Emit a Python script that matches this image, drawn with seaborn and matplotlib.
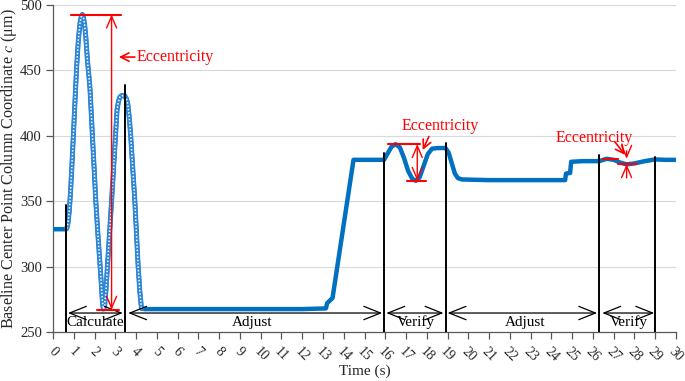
import numpy as np
import pandas as pd
import matplotlib
matplotlib.use("Agg")
import matplotlib.pyplot as plt
import seaborn as sns

# ---- data ----
time_s = [0.0, 0.3, 0.6, 0.66, 0.72, 0.78, 0.84, 0.90, 0.98, 1.06, 1.14, 1.22, 1.30, 1.36, 1.41,
          1.46, 1.52, 1.58, 1.66, 1.72, 1.78, 1.89, 1.98, 2.06, 2.16, 2.26, 2.32, 2.37, 2.42,
          2.48, 2.55, 2.62, 2.72, 2.82, 2.92, 3.01, 3.08, 3.15, 3.22, 3.30, 3.45, 3.54,
          3.60, 3.67, 3.74, 3.84, 3.94, 4.02, 4.10, 4.18, 4.26, 4.40,
          6.0, 8.0, 10.0, 12.0, 13.14, 13.20, 13.46, 14.47, 15.0, 15.94,
          16.10, 16.30, 16.50, 16.70, 16.90, 17.10, 17.30, 17.47, 17.65, 17.85, 18.05, 18.25,
          18.50, 18.90, 19.05, 19.20, 19.35, 19.50, 19.70, 21.0, 23.0, 24.66, 24.70, 24.90,
          24.95, 25.5, 26.30, 26.66, 27.00, 27.30, 27.62, 28.00, 28.50, 28.98, 29.5, 30.0]
coord_um = [328.5, 328.5, 328.5, 329, 333, 342, 356, 374, 400, 427, 453, 473, 486, 491, 492.5,
            491, 485, 475, 457, 447, 436, 402, 375, 350, 325, 302, 288, 275, 267.5,
            269, 282, 300, 325, 350, 376, 400, 419, 426, 429.5, 430.5, 430.5, 428,
            424, 414, 400, 375, 350, 325, 300, 281, 268, 267.5,
            267.5, 267.5, 267.5, 267.5, 268, 272, 276, 381.5, 381.5, 381.5,
            386, 391.5, 393.5, 391, 383, 373, 367, 365.5, 368, 377, 386, 390,
            390.5, 390.5, 387, 379, 371, 367.5, 366.5, 366, 366, 366, 371, 371.5,
            380, 380.5, 380.5, 382.3, 381.5, 379.5, 378, 378.8, 380.5, 381.8, 381.5, 381.5]

calc_time = [t for t in time_s if 0.66 <= t <= 4.3]
calc_vals = [v for t, v in zip(time_s, coord_um) if 0.66 <= t <= 4.3]

phase_names = ["Calculate", "Adjust", "Verify", "Adjust", "Verify"]
phase_start = [0.72, 3.62, 16.05, 19.0, 26.45]
phase_end = [3.36, 15.85, 18.8, 26.2, 28.95]
phase_label_t = [2.05, 9.6, 17.46, 22.74, 27.75]

boundary_t = [0.62, 3.46, 15.94, 18.9, 26.3, 29.0]
boundary_top = [347, 439, 386.6, 394, 385, 383.5]

x_ticks = list(range(0, 31))
y_ticks = [250, 300, 350, 400, 450, 500]

df = pd.DataFrame({"Time (s)": time_s, "c": coord_um})
df_calc = pd.DataFrame({"Time (s)": calc_time, "c": calc_vals})

# ---- style ----
sns.set_theme(style="white")
plt.rcParams["font.family"] = ["Liberation Serif", "DejaVu Serif"]
plt.rcParams["mathtext.fontset"] = "stix"

fig = plt.figure(figsize=(6.85, 3.81), dpi=100)
ax = fig.add_axes([0.0774, 0.1286, 0.9095, 0.8591])

blue = "#0070C0"
red = "#FF0000"

for y in [300, 350, 400, 450, 500]:
    ax.axhline(y, color="#D9D9D9", lw=0.8, zorder=0)

sns.lineplot(data=df, x="Time (s)", y="c", ax=ax, color=blue, lw=3.2,
             sort=False, estimator=None, zorder=3)
sns.lineplot(data=df_calc, x="Time (s)", y="c", ax=ax, color="#2E86D6", lw=3.6,
             sort=False, estimator=None, zorder=4)
ax.plot(calc_time, calc_vals, color="white", lw=1.1, ls=(0, (1, 1.2)), zorder=5)

# boundary lines
for t, top in zip(boundary_t, boundary_top):
    ax.plot([t, t], [250, top], color="black", lw=1.4, zorder=6)

# phase arrows & labels
for name, s, e, lt in zip(phase_names, phase_start, phase_end, phase_label_t):
    ax.annotate("", xy=(e, 264.5), xytext=(s, 264.5),
                arrowprops=dict(arrowstyle="<->,head_length=1.0,head_width=0.4",
                                color="black", lw=0.9, shrinkA=0, shrinkB=0), zorder=6)
    ax.text(lt, 257.3, name, ha="center", va="center", fontsize=11, color="black", zorder=7)

# eccentricity annotations (red)
def hline(x0, x1, y):
    ax.plot([x0, x1], [y, y], color=red, lw=1.5, zorder=7)

def darrow(x, y0, y1, style="<->"):
    ax.annotate("", xy=(x, y1), xytext=(x, y0),
                arrowprops=dict(arrowstyle=style + ",head_length=0.7,head_width=0.3",
                                color=red, lw=1.0, shrinkA=0, shrinkB=0), zorder=7)

hline(0.86, 3.27, 492.5)
hline(2.1, 3.17, 267)
darrow(2.82, 267, 492.5)
ax.annotate("", xy=(3.17, 460), xytext=(3.94, 460),
            arrowprops=dict(arrowstyle="->,head_length=0.5,head_width=0.25",
                            color=red, lw=1.2, shrinkA=0, shrinkB=0))
ax.text(4.03, 460, "Eccentricity", color=red, fontsize=11.5, ha="left", va="center")

hline(16.13, 17.65, 393.5)
hline(17.06, 17.97, 365.4)
darrow(17.54, 365.4, 393.5)
ax.annotate("", xy=(17.8, 389), xytext=(18.1, 399.3),
            arrowprops=dict(arrowstyle="->,head_length=0.5,head_width=0.25",
                            color=red, lw=1.2, shrinkA=0, shrinkB=0))
ax.text(18.64, 407.5, "Eccentricity", color=red, fontsize=11.5, ha="center", va="center")

hline(26.47, 27.22, 382.3)
hline(27.22, 28.13, 378.2)
darrow(27.62, 388.4, 382.3, "->")
darrow(27.62, 367.7, 378.2, "->")
ax.annotate("", xy=(27.54, 385.3), xytext=(27.05, 395.4),
            arrowprops=dict(arrowstyle="->,head_length=0.5,head_width=0.25",
                            color=red, lw=1.2, shrinkA=0, shrinkB=0))
ax.text(26.07, 398, "Eccentricity", color=red, fontsize=11.5, ha="center", va="center")

# axes
ax.set_xlim(0, 30)
ax.set_ylim(250, 500)
ax.set_xticks(x_ticks)
ax.set_xticklabels([str(t) for t in x_ticks], rotation=-45, fontsize=10)
ax.set_yticks(y_ticks)
ax.set_yticklabels([str(v) for v in y_ticks], fontsize=10.5)
ax.tick_params(axis="both", direction="out", length=5, width=0.9, color="#595959",
               bottom=True, left=True, pad=3)
ax.tick_params(axis="x", pad=4)
for side in ["top", "right"]:
    ax.spines[side].set_visible(False)
for side in ["left", "bottom"]:
    ax.spines[side].set_color("#595959")
    ax.spines[side].set_linewidth(0.9)
ax.set_xlabel("Time (s)", fontsize=11, labelpad=1)
ax.set_ylabel("Baseline Center Point Column Coordinate $c$ (μm)", fontsize=11.6, labelpad=1)
ax.grid(False)

fig.savefig("out.png", dpi=100)
